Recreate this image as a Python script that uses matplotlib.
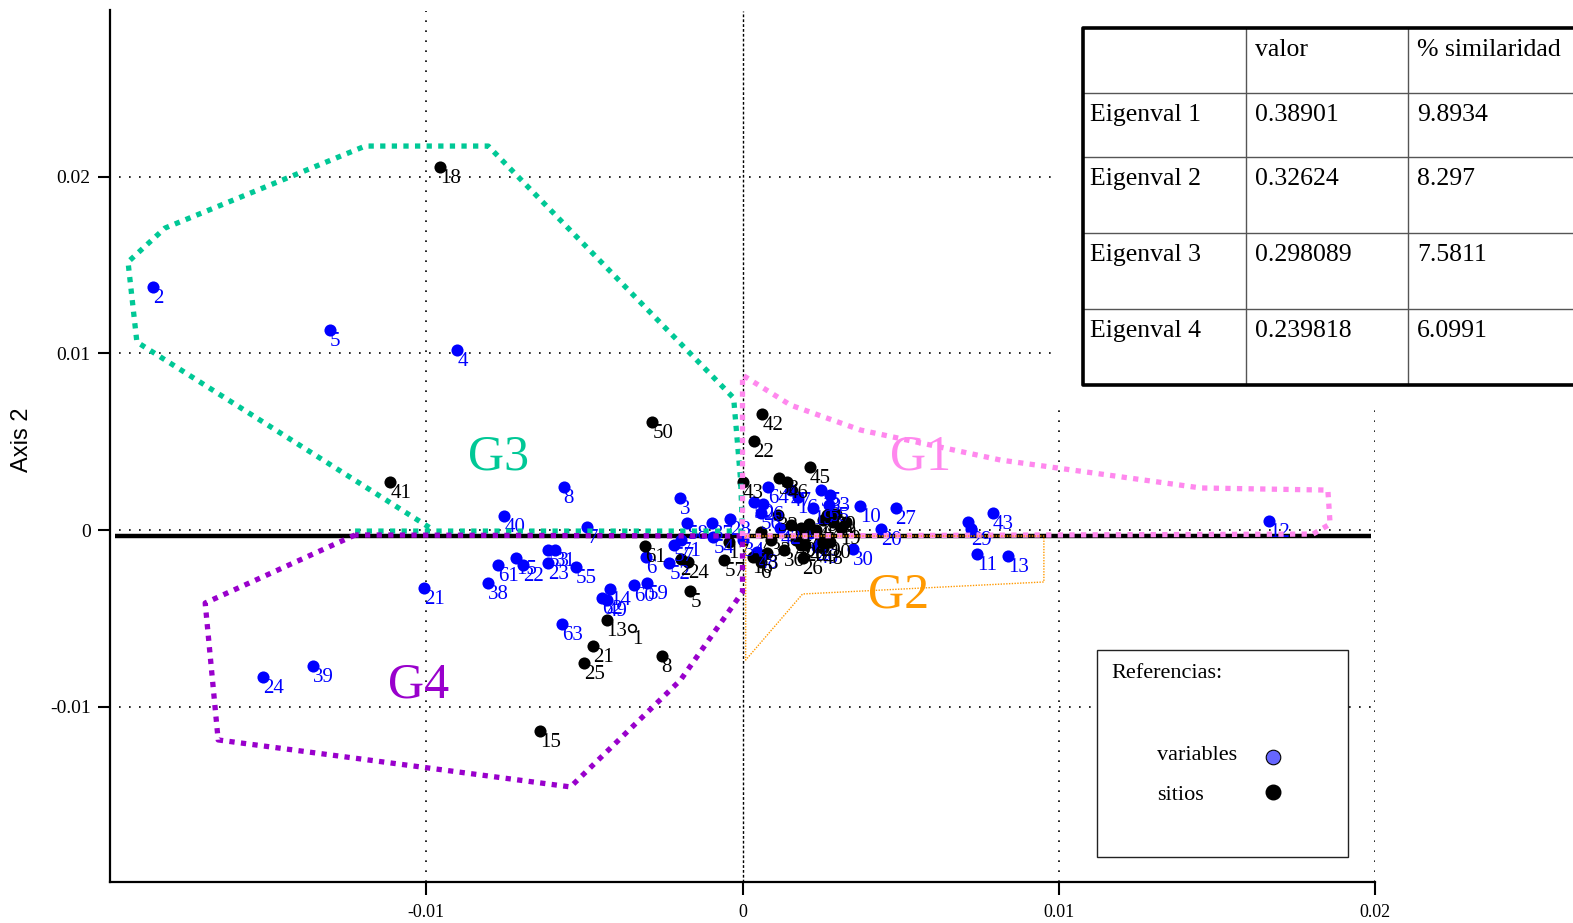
import matplotlib
matplotlib.use("Agg")
import matplotlib.pyplot as plt
from matplotlib.patches import Rectangle

plt.rcParams['font.family'] = ['Liberation Serif', 'DejaVu Serif']

# variables (blue)
var_labels = ["2", "5", "4", "8", "40", "7", "3", "21", "38", "61", "15", "22", "53", "31",
              "23", "55", "14", "62", "49", "60", "59", "63", "6", "52", "57", "71", "58",
              "37", "28", "54", "64", "47", "16", "19", "35", "33", "65", "50", "56", "26",
              "42", "1", "46", "48", "34", "10", "27", "20", "30", "9", "29", "43", "11",
              "13", "12", "24", "39"]
var_x = [-0.01864, -0.01304, -0.00902, -0.00566, -0.00753, -0.00491, -0.00199, -0.01006,
         -0.00804, -0.00772, -0.00715, -0.00693, -0.00614, -0.00592, -0.00614, -0.00528,
         -0.00418, -0.00443, -0.0043, -0.00342, -0.00301, -0.0057, -0.00304, -0.00231,
         -0.00218, -0.00196, -0.00174, -0.00095, -0.00038, -0.00092, 0.00082, 0.00152,
         0.00174, 0.00222, 0.00247, 0.00278, 0.00272, 0.00035, 0.00057, 0.00066, 0.0012,
         0.00215, 0.00237, 0.00047, 0.00003, 0.00373, 0.00484, 0.00437, 0.00348, 0.00712,
         0.00722, 0.00791, 0.00741, 0.00839, 0.01665, -0.01516, -0.01358]
var_y = [0.01375, 0.01132, 0.01019, 0.00243, 0.00079, 0.00017, 0.00181, -0.00328, -0.0030,
         -0.00198, -0.00158, -0.00198, -0.00113, -0.00113, -0.00187, -0.00209, -0.00334,
         -0.00385, -0.00396, -0.00311, -0.0030, -0.00532, -0.00153, -0.00187, -0.00085,
         -0.00057, 0.0004, 0.0004, 0.00062, -0.0004, 0.00243, 0.00226, 0.00187, 0.00125,
         0.00226, 0.00198, 0.00141, 0.00158, 0.00096, 0.00147, 0.00011, -0.00017, -0.00096,
         -0.00125, -0.00057, 0.00136, 0.00125, 0.00006, -0.00108, 0.00045, 0.00006, 0.00096,
         -0.00136, -0.00147, 0.00051, -0.00832, -0.0077]

# sitios (black)
sit_labels = ["18", "50", "41", "15", "8", "25", "21", "13", "1", "5", "61", "2", "24", "57",
              "17", "42", "22", "45", "43", "38", "46", "32", "12", "47", "44", "14", "4",
              "59", "49", "39", "19", "9", "40", "20", "29", "10", "33", "7", "16", "6", "3",
              "36", "26", "34", "48"]
sit_x = [-0.00956, -0.00285, -0.01114, -0.00639, -0.00256, -0.005, -0.00472, -0.0043,
         -0.00348, -0.00165, -0.00307, -0.00196, -0.00171, -0.00057, -0.00044, 0.00063,
         0.00035, 0.00212, 0.0, 0.00114, 0.00142, 0.00111, 0.00152, 0.00184, 0.00209,
         0.00231, 0.00253, 0.00266, 0.00285, 0.00297, 0.0031, 0.00326, 0.00168, 0.00199,
         0.00247, 0.00278, 0.00089, 0.00057, 0.00032, 0.00057, 0.00079, 0.0013, 0.0019,
         0.00184, 0.00253]
sit_y = [0.02054, 0.00611, 0.00272, -0.01138, -0.00713, -0.00753, -0.00656, -0.00509,
         -0.00555, -0.00345, -0.00091, -0.00164, -0.00181, -0.0017, -0.00068, 0.00656,
         0.00504, 0.00357, 0.00272, 0.00294, 0.00272, 0.00085, 0.00028, 0.00011, 0.00034,
         0.0, 0.00057, 0.00085, 0.00045, 0.00091, 0.00011, 0.00045, -0.00057, -0.00085,
         -0.00057, -0.00068, -0.00057, -0.00011, -0.00153, -0.00181, -0.0013, -0.00113,
         -0.00158, -0.00085, -0.00102]
hollow_sitios = ["1"]

# group outlines
g3_x = [-0.01225, 0.0, -0.00006, -0.00028, -0.00804, -0.01193, -0.01826, -0.01943, -0.01915, -0.00987]
g3_y = [-0.00006, -0.00006, 0.00283, 0.00747, 0.02173, 0.02173, 0.01709, 0.01517, 0.01064, 0.00011]
g1_x = [0.0, 0.0, 0.00152, 0.00373, 0.00816, 0.01449, 0.01851, 0.01858, 0.01804, 0.0]
g1_y = [-0.00034, 0.00877, 0.00707, 0.00566, 0.00396, 0.00238, 0.00226, 0.00034, -0.00023, -0.00034]
g2_x = [0.0001, 0.00953, 0.00953, 0.0019, 0.0001, 0.0001]
g2_y = [-0.00034, -0.00034, -0.00294, -0.00362, -0.00736, -0.00034]
g4_x = [-0.01225, -0.01699, -0.01658, -0.00544, -0.00196, 0.0, 0.0, -0.01225]
g4_y = [-0.00028, -0.00413, -0.01188, -0.01454, -0.00849, -0.00351, -0.00034, -0.00028]

groups = ["G1", "G2", "G3", "G4"]
group_colors = ["#ff88ee", "#ff9900", "#00c896", "#9900cc"]
group_pos = [(0.00563, 0.00413), (0.00494, -0.00368), (-0.00772, 0.00413), (-0.01025, -0.00877)]

# eigenvalue table
eig_names = ["Eigenval 1", "Eigenval 2", "Eigenval 3", "Eigenval 4"]
eig_values = [0.38901, 0.32624, 0.298089, 0.239818]
eig_pct = [9.8934, 8.297, 7.5811, 6.0991]

fig = plt.figure(figsize=(15.73, 9.23), dpi=100)
ax = fig.add_axes([110 / 1573, 41 / 923, 1265 / 1573, 872 / 923])
ax.set_xlim(-0.02, 0.02)
ax.set_ylim(-0.01992, 0.02943)

dot = (0, (1, 5))
ax.plot([-0.0197, 0.0099], [0.02, 0.02], color='k', lw=1.2, ls=dot)
ax.plot([-0.0197, 0.0099], [0.01, 0.01], color='k', lw=1.2, ls=dot)
ax.plot([-0.0197, 0.0199], [0, 0], color='k', lw=1.2, ls=dot)
ax.plot([-0.0197, 0.0199], [-0.01, -0.01], color='k', lw=1.2, ls=dot)
ax.plot([-0.01, -0.01], [-0.0199, 0.0294], color='k', lw=1.2, ls=dot)
ax.plot([0.01, 0.01], [-0.0199, 0.00707], color='k', lw=1.2, ls=dot)
ax.plot([0.02, 0.02], [-0.0199, 0.00707], color='k', lw=1.2, ls=dot)
ax.plot([0, 0], [-0.0199, 0.0294], color='k', lw=1.0, ls=(0, (2, 1.5)))
ax.plot([-0.01984, 0.01987], [-0.00034, -0.00034], color='k', lw=3.2, solid_capstyle='butt')

ax.scatter(var_x, var_y, s=76, color='blue', zorder=3, linewidths=0)
for lbl, x, y in zip(var_labels, var_x, var_y):
    ax.annotate(lbl, (x, y), xytext=(0, -1.5), textcoords='offset points',
                ha='left', va='top', fontsize=15, color='blue', zorder=4)

for lbl, x, y in zip(sit_labels, sit_x, sit_y):
    if lbl in hollow_sitios:
        ax.scatter([x], [y], s=30, facecolor='white', edgecolor='k', linewidths=1.2, zorder=3)
    else:
        ax.scatter([x], [y], s=76, color='k', zorder=3, linewidths=0)
    ax.annotate(lbl, (x, y), xytext=(0, -1.5), textcoords='offset points',
                ha='left', va='top', fontsize=15, color='k', zorder=4)

sq = (0, (1, 1.2))
ax.plot(g3_x, g3_y, color=group_colors[2], lw=3.8, ls=sq, zorder=5)
ax.plot(g4_x, g4_y, color=group_colors[3], lw=3.8, ls=sq, zorder=5)
ax.plot(g1_x, g1_y, color=group_colors[0], lw=3.8, ls=sq, zorder=5)
ax.plot(g2_x, g2_y, color=group_colors[1], lw=1.0, ls=(0, (1, 1)), zorder=5)

for name, col, (gx, gy) in zip(groups, group_colors, group_pos):
    ax.text(gx, gy, name, color=col, fontsize=36, ha='center', va='center', zorder=6)

ax.set_xticks([-0.01, 0, 0.01, 0.02])
ax.set_xticklabels(["-0.01", "0", "0.01", "0.02"], fontsize=13)
ax.set_yticks([-0.01, 0, 0.01, 0.02])
ax.set_yticklabels(["-0.01", "0", "0.01", "0.02"], fontsize=14)
ax.tick_params(axis='x', direction='out', length=9, width=1.5, pad=7)
ax.tick_params(axis='y', direction='out', length=9, width=1.5, pad=5)
for side in ['top', 'right']:
    ax.spines[side].set_visible(False)
for side in ['left', 'bottom']:
    ax.spines[side].set_linewidth(1.6)

fig.text(22 / 1573, 1 - 440 / 923, "Axis 2", rotation=90, ha='center', va='center',
         fontsize=17, family=['Liberation Sans Narrow', 'Liberation Sans', 'DejaVu Sans'])

# overlay in pixel coordinates for table and legend box
ov = fig.add_axes([0, 0, 1, 1])
ov.set_xlim(0, 1573)
ov.set_ylim(923, 0)
ov.axis('off')
ov.patch.set_alpha(0)

row_edges = [28, 93, 157, 233, 309, 385]
col_edges = [1083, 1246, 1408, 1580]
ov.add_patch(Rectangle((1055, 0), 530, 403, facecolor='white', edgecolor='none', zorder=1))
for yy in row_edges[1:-1]:
    ov.plot([col_edges[0], col_edges[-1]], [yy, yy], color='#555555', lw=1, zorder=2)
for xx in col_edges[1:-1]:
    ov.plot([xx, xx], [row_edges[0], row_edges[-1]], color='#555555', lw=1, zorder=2)
ov.plot([col_edges[-1], col_edges[0], col_edges[0], col_edges[-1]],
        [row_edges[0], row_edges[0], row_edges[-1], row_edges[-1]], color='k', lw=2.6, zorder=3)

cells = [["", "valor", "% similaridad"]]
for n, v, p in zip(eig_names, eig_values, eig_pct):
    cells.append([n, str(v), str(p)])
for r, row in enumerate(cells):
    for c, txt in enumerate(row):
        ov.text(col_edges[c] + (7 if c == 0 else 9), row_edges[r] + 11, txt,
                ha='left', va='top', fontsize=18.5, zorder=4)

ov.add_patch(Rectangle((1097, 650), 251, 207, facecolor='white', edgecolor='#222222', lw=1, zorder=2))
ov.text(1111, 673, "Referencias:", fontsize=16, ha='left', va='center', zorder=3)
ov.text(1157, 755, "variables", fontsize=16, ha='left', va='center', zorder=3)
ov.text(1157, 796, "sitios", fontsize=16, ha='left', va='center', zorder=3)
ov.scatter([1273], [757], s=110, facecolor='#6666ff', edgecolor='k', linewidths=0.8, zorder=3)
ov.scatter([1273], [792], s=110, color='k', zorder=3)

fig.savefig("out.png", dpi=100)
